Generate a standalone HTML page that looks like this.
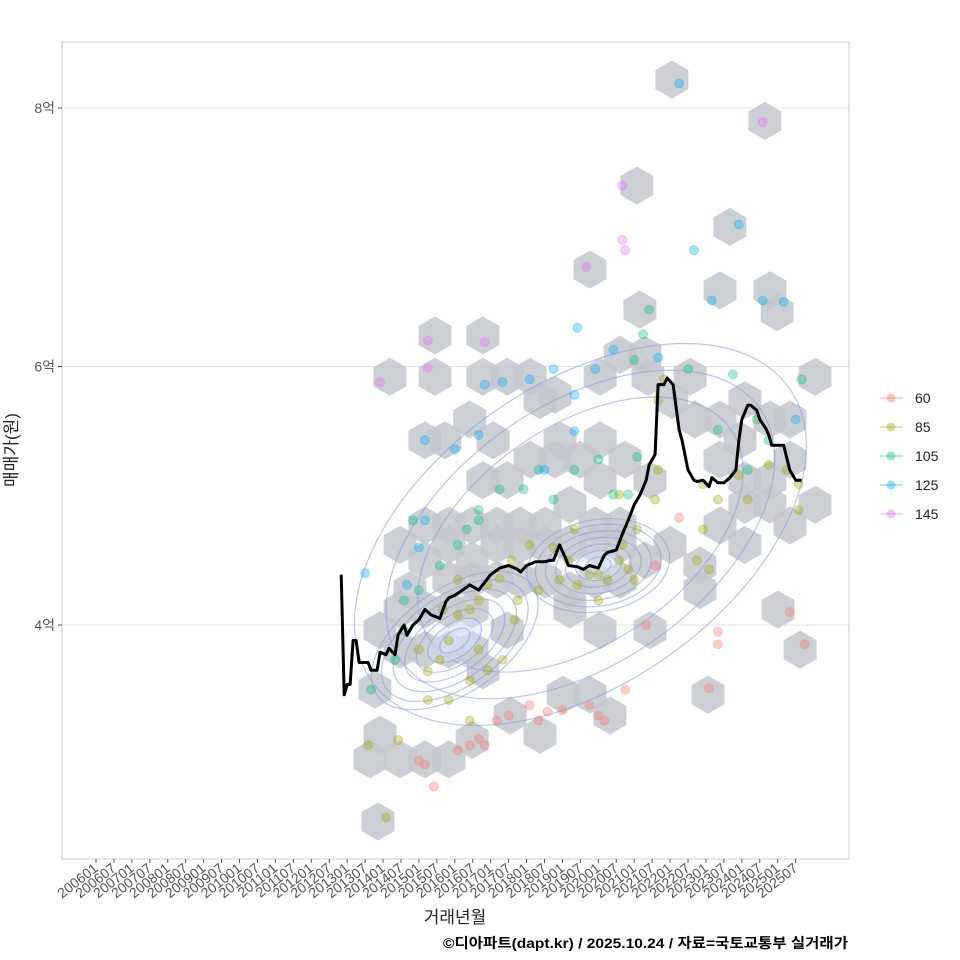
<!DOCTYPE html>
<html><head><meta charset="utf-8"><style>
html,body{margin:0;padding:0;background:#fff;}
svg{display:block;font-family:"Liberation Sans","Noto Sans CJK KR",sans-serif;}
</style></head><body>
<svg id="chart" width="960" height="960" viewBox="0 0 960 960">
<rect x="0" y="0" width="960" height="960" fill="#fff"/>
<rect x="62" y="42" width="787" height="817" fill="#fff" stroke="#cccccc" stroke-width="1"/>
<g id="grid"></g><g id="hexes"></g><g id="contours"></g><g id="points"></g><g id="line"></g><g id="axes"></g><g id="legend"></g>
<text x="17" y="450" transform="rotate(-90 17 450)" text-anchor="middle" font-size="17" fill="#222">매매가(원)</text>
<text x="455" y="923" text-anchor="middle" font-size="17" fill="#222">거래년월</text>
<text x="848" y="948" text-anchor="end" font-size="14" font-weight="bold" fill="#000" textLength="405" lengthAdjust="spacingAndGlyphs">©디아파트(dapt.kr) / 2025.10.24 / 자료=국토교통부 실거래가</text>
</svg>
<script>
// month index = months since 2006-01; values in 억
const yTicks = [4, 6, 8];
const yTickLabels = ["4억", "6억", "8억"];
const lineMonths = [82,83,84,85,86,87,88,91,92,94,95,97,98,100,101,103,104,106,108,110,112,115,117,118,120,122,125,128,132,135,138,141,142,144,147,150,152,153,155,157,158,161,163,165,168,170,171,174,176,178,180,182,184,185,187,188,190,191,193,195,196,198,200,201,203,205,206,208,210,212,214,215,216,218,219,221,222,224,225,226,228,230,232,234,236];
const lineValues = [4.39,3.46,3.54,3.54,3.88,3.88,3.71,3.71,3.65,3.65,3.79,3.77,3.82,3.77,3.92,4.00,3.92,4.00,4.04,4.12,4.08,4.05,4.18,4.21,4.23,4.26,4.31,4.27,4.39,4.44,4.46,4.43,4.41,4.46,4.49,4.49,4.50,4.50,4.62,4.52,4.46,4.45,4.43,4.46,4.44,4.54,4.56,4.58,4.70,4.81,4.93,5.01,5.12,5.24,5.32,5.86,5.86,5.91,5.86,5.51,5.43,5.20,5.12,5.11,5.12,5.07,5.14,5.10,5.10,5.14,5.20,5.43,5.59,5.70,5.70,5.66,5.59,5.52,5.47,5.39,5.39,5.39,5.20,5.12,5.12];
const hexMonths = [192.6,180.9,212,223.7,165.2,225.4,208.7,181.9,227.8,113.4,129.4,175.3,183.6,98.3,113.4,129.4,137.5,145.2,153.5,168.6,184.6,198.7,240.5,148.5,192.6,200.3,208.7,217,225.4,232.1,110,132.8,125,116.7,155.2,168.6,215.4,129.4,137.5,145.2,153.5,161.9,168.6,176.9,185.3,208.7,217,225.4,232.1,240.5,110,118,125.8,134.1,141.8,150.2,158.5,166.9,175.3,192,208.7,217,225.4,232.1,101.7,110,118,125.8,134.1,141.8,150.2,158.5,166.9,175.3,183.6,202,217,105,118,125.8,134.1,141.8,150.2,158.5,166.9,175.3,202,95,101.7,110,118,125.8,137.5,158.5,168.6,185.3,228.1,93.3,101.7,110,118,125.8,129.4,235.5,204.7,156.2,165.2,171.9,138.5,148.5,125.8,118,110,101.7,91.6,95,94.3];
const hexValues = [8.22,7.40,7.08,7.90,6.75,6.59,6.59,6.44,6.42,6.24,6.24,6.09,6.09,5.92,5.92,5.92,5.92,5.92,5.78,5.92,5.92,5.92,5.92,5.74,5.74,5.59,5.59,5.74,5.59,5.59,5.43,5.43,5.59,5.43,5.43,5.43,5.43,5.12,5.12,5.28,5.28,5.28,5.12,5.28,5.12,5.28,5.12,5.12,5.28,4.93,4.77,4.77,4.77,4.77,4.77,4.77,4.93,4.77,4.77,4.62,4.77,4.93,4.93,4.77,4.62,4.50,4.62,4.50,4.62,4.62,4.62,4.62,4.62,4.62,4.50,4.46,4.62,4.27,4.35,4.35,4.35,4.35,4.35,4.27,4.35,4.35,4.27,3.96,4.12,4.12,4.12,4.12,3.96,4.12,3.96,3.96,4.12,3.50,3.81,3.81,3.81,3.81,3.65,3.81,3.46,3.46,3.46,3.30,3.30,3.15,3.11,2.96,2.96,2.96,2.96,3.15,2.48];
const sizeCategories = ["60", "85", "105", "125", "145"];
const categoryColors = ["#F8766D", "#A3A500", "#00BF7D", "#00B0F6", "#E76BF3"];
const ptMonths60 = [113,110,121,125,128,130,134,138,145,148,151,156,165,168,170,177,184,187,195,205,208,208,232,237,108];
const ptValues60 = [2.75,2.92,3.03,3.07,3.12,3.07,3.26,3.30,3.38,3.26,3.33,3.34,3.38,3.30,3.26,3.50,4.00,4.46,4.83,3.51,3.95,3.85,4.10,3.85,2.95];
const ptMonths85 = [97,91,101,108,111,115,118,121,125,128,131,135,139,145,128,125,118,111,131,140,148,155,158,161,165,168,171,175,176,178,180,181,187,190,188,203,208,218,215,225,231,235,203,201,205,235,175,188,125,136,160,141,168,153,121,116];
const ptValues85 = [2.51,3.07,3.11,3.81,3.64,3.73,3.88,4.08,4.12,4.19,4.31,4.36,4.50,4.62,3.81,3.57,3.42,3.42,3.65,4.04,4.27,4.35,4.50,4.31,4.39,4.39,4.35,4.50,4.62,4.43,4.35,4.74,4.97,5.90,5.74,5.09,4.97,4.97,5.16,5.24,5.20,5.09,4.74,4.50,4.43,4.89,5.01,5.20,3.26,3.73,4.74,4.19,4.19,4.60,4.35,4.12];
const ptMonths105 = [92,100,103,108,115,121,124,128,135,143,148,160,168,173,178,181,185,183,180,198,208,213,218,221,225,236,106,103,128,153];
const ptValues105 = [3.50,3.73,3.96,4.27,4.46,4.62,4.74,4.89,5.05,5.05,5.20,5.20,5.28,5.01,5.01,5.30,6.44,6.25,6.05,5.98,5.51,5.94,5.20,5.59,5.43,5.90,4.81,4.19,4.81,4.97];
const ptMonths125 = [90,104,108,110,120,128,130,136,145,153,160,160,161,167,173,188,200,195,206,215,223,230,234,110,150];
const ptValues125 = [4.40,4.31,4.60,5.43,5.36,5.47,5.86,5.88,5.90,5.98,5.78,5.50,6.30,5.98,6.13,6.07,6.90,8.19,6.51,7.10,6.51,6.50,5.59,4.81,5.20];
const ptMonths145 = [95,111,111,130,176,176,177,164,223];
const ptValues145 = [5.88,6.20,5.99,6.19,7.40,6.98,6.90,6.77,7.89];
const contourLevels = [0.18,0.32,0.46,0.6,0.74,0.88,1.0];
const outerLevels = [0.72,0.86,1.0];

const NS = "http://www.w3.org/2000/svg";
function X(m){ return 96 + m * 2.99; }
function Y(v){ return 625 - (v - 4) * 129.25; }
function mk(tag, attrs, parent){ const e=document.createElementNS(NS,tag); for(const k in attrs) e.setAttribute(k, attrs[k]); parent.appendChild(e); return e; }
function monthLabel(m){ const y=2006+Math.floor(m/12), mo=m%12+1; return y+(mo<10?"0":"")+mo; }

const grid=document.getElementById("grid");
yTicks.forEach((t,i)=>{
  const l=mk("line",{x1:62,x2:849,y1:Y(t),y2:Y(t),stroke:"#e3e3e3","stroke-width":1},grid);
  
  
});
const axes=document.getElementById("axes");
yTicks.forEach((t,i)=>{
  const tk=mk("line",{x1:58,x2:62,y1:Y(t),y2:Y(t),stroke:"#555"},axes);
  
  
  const tx=mk("text",{x:55,y:Y(t)+5,"text-anchor":"end","font-size":14,fill:"#555"},axes);
  tx.textContent=yTickLabels[i];
  
  
});
for(let m=0;m<=234;m+=6){
  const x=X(m);
  const tk=mk("line",{x1:x,x2:x,y1:859,y2:863,stroke:"#555"},axes);
  
  
  const tx=mk("text",{x:x+3,y:870,"text-anchor":"end","font-size":14,fill:"#555",transform:`rotate(-38 ${x+3} 870)`},axes);
  tx.textContent=monthLabel(m);
  
  
}

// hexbins
const hg=document.getElementById("hexes");
hexMonths.forEach((m,i)=>{
  const cx=X(m), cy=Y(hexValues[i]), r=19; let pts=[];
  for(let k=0;k<6;k++){ const a=Math.PI/180*(60*k-90); pts.push((cx+r*Math.cos(a)).toFixed(1)+","+(cy+r*Math.sin(a)).toFixed(1)); }
  const p=mk("polygon",{points:pts.join(" "),fill:"#c3c7cc","fill-opacity":0.85},hg);
  
  
});

// contours (density estimate shapes)
const cg=document.getElementById("contours");
function ell(cx,cy,rx,ry,rot,fill){
  const e=mk("ellipse",{cx:cx,cy:cy,rx:rx,ry:ry,transform:`rotate(${rot} ${cx} ${cy})`,fill:fill,stroke:"#8c9ee6","stroke-width":1.2,"stroke-opacity":0.6},cg);
  
  
}
outerLevels.slice().reverse().forEach(s=>ell(X(162),Y(4.7),255*s,150*s,-35,"none"));
contourLevels.slice().reverse().forEach(s=>ell(X(120),Y(3.88),95*s,52*s,-35,s<0.35?"rgba(210,225,245,0.5)":"none"));
contourLevels.slice().reverse().forEach(s=>ell(X(168),Y(4.46),72*s,46*s,-10,s<0.35?"rgba(210,225,245,0.5)":"none"));

// points
const pg=document.getElementById("points");
const ptM=[ptMonths60,ptMonths85,ptMonths105,ptMonths125,ptMonths145];
const ptV=[ptValues60,ptValues85,ptValues105,ptValues125,ptValues145];
ptM.forEach((arr,c)=>arr.forEach((m,i)=>{
  const cc=mk("circle",{cx:X(m),cy:Y(ptV[c][i]),r:4.5,fill:categoryColors[c],"fill-opacity":0.35,stroke:categoryColors[c],"stroke-opacity":0.3},pg);
  
  
}));

// line
const lg=document.getElementById("line");
const d=lineMonths.map((m,i)=>(i?"L":"M")+X(m).toFixed(1)+","+Y(lineValues[i]).toFixed(1)).join(" ");
const path=mk("path",{d:d,fill:"none",stroke:"#000","stroke-width":3,"stroke-linejoin":"round"},lg);



// legend
const leg=document.getElementById("legend");
sizeCategories.forEach((c,i)=>{
  const y=398+i*29;
  const g=mk("g",{},leg);
  
  
  mk("line",{x1:880,x2:903,y1:y,y2:y,stroke:categoryColors[i],"stroke-opacity":0.4,"stroke-width":1.5},g);
  mk("circle",{cx:891,cy:y,r:4.5,fill:categoryColors[i],"fill-opacity":0.4},g);
  const t=mk("text",{x:915,y:y+5,"font-size":14,fill:"#222"},g);
  t.textContent=c;
});
</script>
</body></html>
